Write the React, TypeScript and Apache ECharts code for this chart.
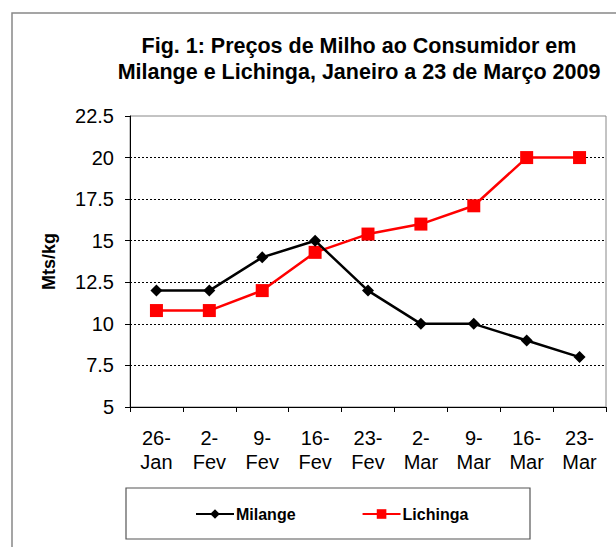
import React, { useEffect, useRef } from "react";
import * as echarts from "echarts";

const categories = ["26-\nJan", "2-\nFev", "9-\nFev", "16-\nFev", "23-\nFev", "2-\nMar", "9-\nMar", "16-\nMar", "23-\nMar"];
const milange = [12, 12, 14, 15, 12, 10, 10, 9, 8];
const lichinga = [10.8, 10.8, 12, 14.3, 15.4, 16, 17.1, 20, 20];
const yMin = 5;
const yMax = 22.5;
const yStep = 2.5;
const titleText = "Fig. 1: Preços de Milho ao Consumidor em\nMilange e Lichinga, Janeiro a 23 de Março 2009";

const FONT = "'Liberation Sans', Arial, sans-serif";

export default function App() {
  const ref = useRef<HTMLDivElement>(null);
  useEffect(() => {
    if (!ref.current) return;
    const chart = echarts.init(ref.current, null, { renderer: "svg" });
    chart.setOption({
      animation: false,
      backgroundColor: "#fff",
      textStyle: { fontFamily: FONT },
      title: {
        text: titleText,
        left: 354,
        top: 28,
        textAlign: "center",
        textStyle: { fontFamily: FONT, fontSize: 21.5, fontWeight: "bold", color: "#000", lineHeight: 26 },
      },
      graphic: [
        { type: "rect", shape: { x: 12, y: 13, width: 620, height: 560 }, style: { fill: "none", stroke: "#888", lineWidth: 1.5 }, z: 0 },
        { type: "rect", shape: { x: 126, y: 488, width: 404, height: 51 }, style: { fill: "none", stroke: "#555", lineWidth: 1.2 }, z: 0 },
      ],
      legend: {
        left: 190,
        top: 501,
        itemWidth: 38,
        itemHeight: 12,
        itemGap: 66,
        textStyle: { fontFamily: FONT, fontSize: 16, fontWeight: "bold", color: "#000", padding: [0, 0, 0, -3] },
        data: ["Milange", "Lichinga"],
      },
      grid: { left: 130, right: 10, top: 116, bottom: 140, show: true, borderColor: "#888", borderWidth: 1 },
      xAxis: {
        type: "category",
        data: categories,
        boundaryGap: true,
        axisLine: { lineStyle: { color: "#000", width: 1 } },
        axisTick: { show: true, length: 5, lineStyle: { color: "#000" } },
        axisLabel: { interval: 0, fontSize: 20, color: "#000", lineHeight: 24, margin: 19, fontFamily: FONT },
      },
      yAxis: {
        type: "value",
        min: yMin,
        max: yMax,
        interval: yStep,
        name: "Mts/kg",
        nameLocation: "middle",
        nameGap: 72,
        nameTextStyle: { fontFamily: FONT, fontSize: 18, fontWeight: "bold", color: "#000" },
        axisLine: { show: true, lineStyle: { color: "#000", width: 1 } },
        axisTick: { show: true, length: 5, lineStyle: { color: "#000" } },
        axisLabel: { fontSize: 20, color: "#000", margin: 16, fontFamily: FONT },
        splitLine: { show: true, showMinLine: false, showMaxLine: false, lineStyle: { color: "#000", type: [2, 2], width: 1 } },
      },
      series: [
        {
          name: "Milange",
          type: "line",
          data: milange,
          symbol: "diamond",
          symbolSize: 12,
          lineStyle: { color: "#000", width: 2.5 },
          itemStyle: { color: "#000" },
          z: 3,
        },
        {
          name: "Lichinga",
          type: "line",
          data: lichinga,
          symbol: "rect",
          symbolSize: 13,
          lineStyle: { color: "#ff0000", width: 2.5 },
          itemStyle: { color: "#ff0000" },
          z: 2,
        },
      ],
    });
    return () => chart.dispose();
  }, []);
  return <div ref={ref} style={{ position: "fixed", left: 0, top: 0, width: 616, height: 547 }} />;
}
